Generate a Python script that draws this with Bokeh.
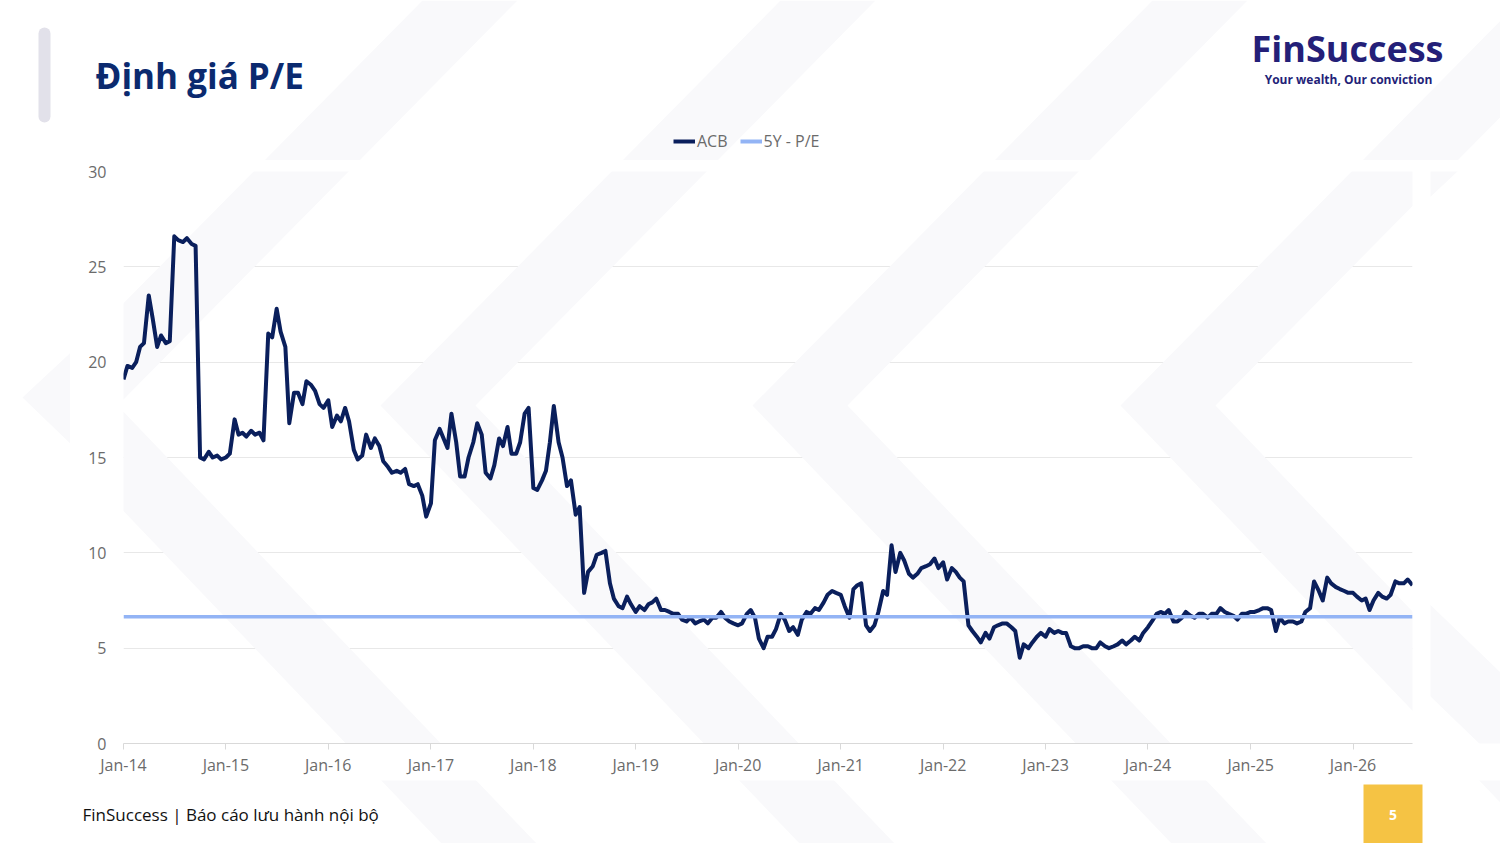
import pandas as pd
from datetime import datetime
from bokeh.plotting import figure
from bokeh.layouts import column, row
from bokeh.core.properties import value
from bokeh.models import (Range1d, FixedTicker, DatetimeTickFormatter, Legend, LegendItem,
                          PolyAnnotation)
from bokeh.embed import file_html
from bokeh.resources import INLINE

# ---- data: ACB P/E, semi-monthly readings (1st and 15th of each month) ----
pe_2014 = [19.1, 19.8, 19.7, 20.0, 20.8, 21.0, 23.5, 22.3, 20.8, 21.4, 21.0, 21.1,
           26.6, 26.4, 26.3, 26.5, 26.2, 26.1, 15.0, 14.9, 15.3, 15.0, 15.1, 14.9]
pe_2015 = [15.0, 15.2, 17.0, 16.2, 16.3, 16.1, 16.4, 16.2, 16.3, 15.9, 21.5, 21.3,
           22.8, 21.6, 20.8, 16.8, 18.4, 18.4, 17.8, 19.0, 18.8, 18.5, 17.8, 17.6]
pe_2016 = [18.0, 16.6, 17.2, 16.9, 17.6, 16.9, 15.4, 14.9, 15.1, 16.2, 15.5, 16.0,
           15.6, 14.8, 14.5, 14.2, 14.3, 14.2, 14.4, 13.6, 13.5, 13.6, 13.0, 11.9]
pe_2017 = [12.6, 15.9, 16.5, 16.0, 15.5, 17.3, 15.8, 14.0, 14.0, 15.0, 15.8, 16.8,
           16.2, 14.2, 13.9, 14.6, 16.0, 15.6, 16.6, 15.2, 15.2, 15.8, 17.3, 17.6]
pe_2018 = [13.4, 13.3, 13.8, 14.3, 15.8, 17.7, 15.8, 15.0, 13.5, 13.8, 12.0, 12.4,
           7.9, 9.0, 9.3, 9.9, 10.0, 10.1, 8.4, 7.6, 7.2, 7.1, 7.7, 7.3]
pe_2019 = [6.9, 7.2, 7.0, 7.3, 7.4, 7.6, 7.0, 7.0, 6.9, 6.8, 6.8, 6.5,
           6.4, 6.6, 6.3, 6.4, 6.5, 6.3, 6.6, 6.6, 6.9, 6.6, 6.4, 6.3]
pe_2020 = [6.2, 6.3, 6.8, 7.0, 6.6, 5.5, 5.0, 5.6, 5.6, 6.0, 6.8, 6.5,
           5.9, 6.1, 5.7, 6.5, 6.9, 6.8, 7.1, 7.0, 7.4, 7.8, 8.0, 7.9]
pe_2021 = [7.8, 7.2, 6.6, 8.1, 8.3, 8.4, 6.2, 5.9, 6.2, 6.9, 8.0, 7.8,
           10.4, 9.0, 10.0, 9.6, 8.9, 8.7, 8.9, 9.2, 9.3, 9.4, 9.7, 9.2]
pe_2022 = [9.5, 8.6, 9.2, 9.0, 8.7, 8.5, 6.2, 5.9, 5.6, 5.3, 5.8, 5.5,
           6.1, 6.2, 6.3, 6.3, 6.1, 5.9, 4.5, 5.2, 5.0, 5.3, 5.6, 5.8]
pe_2023 = [5.6, 6.0, 5.8, 5.9, 5.8, 5.8, 5.1, 5.0, 5.0, 5.1, 5.1, 5.0,
           5.0, 5.3, 5.1, 5.0, 5.1, 5.2, 5.4, 5.2, 5.4, 5.6, 5.4, 5.8]
pe_2024 = [6.1, 6.4, 6.8, 6.9, 6.8, 7.0, 6.4, 6.4, 6.6, 6.9, 6.7, 6.6,
           6.8, 6.8, 6.6, 6.8, 6.8, 7.1, 6.9, 6.8, 6.7, 6.5, 6.8, 6.8]
pe_2025 = [6.9, 6.9, 7.0, 7.1, 7.1, 7.0, 5.9, 6.6, 6.3, 6.4, 6.4, 6.3,
           6.4, 6.9, 7.1, 8.5, 8.0, 7.5, 8.7, 8.4, 8.2, 8.1, 8.0, 7.9]
pe_2026 = [7.9, 7.7, 7.5, 7.6, 7.0, 7.5, 7.9, 7.7, 7.6, 7.8, 8.5, 8.4, 8.4, 8.6, 8.3]

pe_5y_avg = 6.65
tick_years = list(range(2014, 2027))
y_ticks = [0, 5, 10, 15, 20, 25, 30]
series_names = ["ACB", "5Y - P/E"]

pe_acb = (pe_2014 + pe_2015 + pe_2016 + pe_2017 + pe_2018 + pe_2019 + pe_2020 +
          pe_2021 + pe_2022 + pe_2023 + pe_2024 + pe_2025 + pe_2026)
dates = pd.date_range("2014-01-01", periods=len(pe_acb), freq="SMS")

ACB_COLOR = "#0a1f5c"
AVG_COLOR = "#93b4f5"
FONT = "Open Sans"
CHEV_FILL = "#f9f9fb"

# page layout (pixels): header 0-160, chart row 160-780, footer 780-843
PW = 1500
HDR_H, MID_H, FTR_H = 160, 620, 63
LEFT_W, RIGHT_W = 70, 70
CHART_W = PW - LEFT_W - RIGHT_W

# faint background chevrons, in page pixels
chevrons = []
for vx in [22, 380, 752, 1120]:
    w = 95
    chevrons.append(([vx + 400, vx, vx + 420, vx + 420 + w, vx + w, vx + 400 + w],
                     [0, 405, 844, 844, 405, 0]))


def deco_fig(w, h, x0, y0):
    f = figure(width=w, height=h, output_backend="svg", toolbar_location=None,
               x_range=Range1d(x0, x0 + w), y_range=Range1d(y0 + h, y0),
               min_border=0)
    f.axis.visible = False
    f.grid.visible = False
    f.outline_line_color = None
    f.background_fill_color = "white"
    f.border_fill_color = "white"
    for xs, ys in chevrons:
        f.add_layout(PolyAnnotation(xs=xs, ys=ys, fill_color=CHEV_FILL, fill_alpha=1,
                                    line_color=None, level="underlay"))
    return f


# ---------------- header ----------------
hdr = deco_fig(PW, HDR_H, 0, 0)
hdr.line(x=[44, 44], y=[33, 116], line_width=12, line_cap="round", line_color="#e2e1ea")
hdr.text(x=[95], y=[75], text=["Định giá P/E"], text_font=value(FONT),
         text_font_style="bold", text_font_size="35px", text_color="#0b2a6f",
         text_baseline="middle", text_align="left")
hdr.text(x=[1347], y=[48], text=["FinSuccess"], text_font=value(FONT),
         text_font_style="bold", text_font_size="36px", text_color="#241f78",
         text_baseline="middle", text_align="center")
hdr.text(x=[1348], y=[79], text=["Your wealth, Our conviction"], text_font=value(FONT),
         text_font_style="bold", text_font_size="12px", text_color="#241f78",
         text_baseline="middle", text_align="center")
nan = float("nan")
lg1 = hdr.line(x=[nan, nan], y=[nan, nan], line_color=ACB_COLOR, line_width=4)
lg2 = hdr.line(x=[nan, nan], y=[nan, nan], line_color=AVG_COLOR, line_width=4)
legend = Legend(items=[LegendItem(label=series_names[0], renderers=[lg1]),
                       LegendItem(label=series_names[1], renderers=[lg2])],
                orientation="horizontal", location=(673, 8),
                background_fill_alpha=0, border_line_color=None,
                label_text_font=FONT, label_text_font_size="16px",
                label_text_color="#6b6b6b", glyph_width=22, glyph_height=16,
                label_standoff=2, spacing=12, padding=0, margin=0)
hdr.add_layout(legend, "center")

# ---------------- chart ----------------
p = figure(width=CHART_W, height=MID_H, output_backend="svg", toolbar_location=None,
           x_axis_type="datetime",
           x_range=Range1d(datetime(2014, 1, 1), datetime(2026, 8, 1)),
           y_range=Range1d(0, 30),
           min_border_left=123 - LEFT_W, min_border_right=(LEFT_W + CHART_W) - 1412,
           min_border_top=171 - HDR_H, min_border_bottom=(HDR_H + MID_H) - 743)
p.outline_line_color = None
p.background_fill_color = "white"
p.border_fill_color = "white"
for xs, ys in chevrons:
    p.add_layout(PolyAnnotation(xs=[x - LEFT_W for x in xs], ys=[y - HDR_H for y in ys],
                                xs_units="canvas", ys_units="canvas",
                                fill_color=CHEV_FILL, fill_alpha=1, line_color=None,
                                level="underlay"))

p.line(dates, pe_acb, line_color=ACB_COLOR, line_width=4, line_join="round")
p.line([dates[0], dates[-1]], [pe_5y_avg, pe_5y_avg], line_color=AVG_COLOR, line_width=3.5)

p.xaxis.ticker = FixedTicker(ticks=[datetime(y, 1, 1).timestamp() * 1000 for y in tick_years])
fmt = "%b-%y"
p.xaxis.formatter = DatetimeTickFormatter(years=fmt, months=fmt, days=fmt, hours=fmt,
                                          minutes=fmt, seconds=fmt, milliseconds=fmt,
                                          microseconds=fmt, hourmin=fmt, minsec=fmt)
for ax in (p.xaxis[0], p.yaxis[0]):
    ax.major_label_text_font = FONT
    ax.major_label_text_font_size = "16px"
    ax.major_label_text_color = "#6b6b6b"
    ax.minor_tick_line_color = None
p.xaxis.axis_line_color = "#d9d9d9"
p.xaxis.major_tick_line_color = "#d9d9d9"
p.xaxis.major_tick_out = 6
p.xaxis.major_tick_in = 0
p.xaxis.major_label_standoff = 4
p.yaxis.axis_line_color = None
p.yaxis.major_tick_line_color = None
p.yaxis.major_label_standoff = 11
p.yaxis.ticker = FixedTicker(ticks=y_ticks)
p.xgrid.grid_line_color = None
p.ygrid.grid_line_color = "#e8e8e8"
p.ygrid.ticker = FixedTicker(ticks=y_ticks[1:])

left = deco_fig(LEFT_W, MID_H, 0, HDR_H)
right = deco_fig(RIGHT_W, MID_H, LEFT_W + CHART_W, HDR_H)

# ---------------- footer ----------------
ftr = deco_fig(PW, FTR_H, 0, HDR_H + MID_H)
ftr.text(x=[82], y=[814], text=["FinSuccess | Báo cáo lưu hành nội bộ"], text_font=value(FONT),
         text_font_size="17px", text_color="#111111", text_baseline="middle", text_align="left")
ftr.quad(left=[1363], right=[1422], top=[784], bottom=[HDR_H + MID_H + FTR_H],
         fill_color="#f5c344", line_color=None)
ftr.text(x=[1392.5], y=[814], text=["5"], text_font=value(FONT), text_font_style="bold",
         text_font_size="14px", text_color="white", text_baseline="middle", text_align="center")

layout = column(hdr, row(left, p, right, spacing=0), ftr, spacing=0)
open("out.html", "w").write(file_html(layout, INLINE))
